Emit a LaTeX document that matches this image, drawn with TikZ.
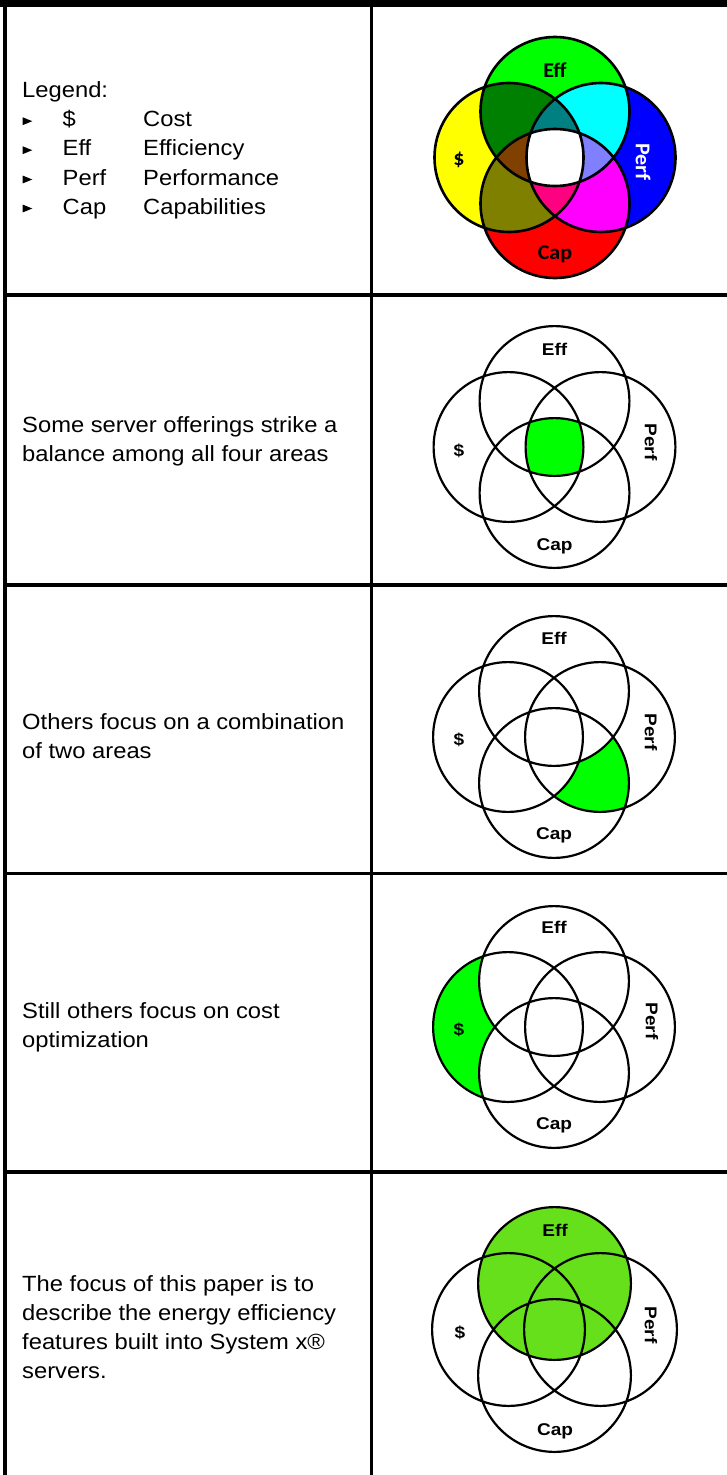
\documentclass[tikz,border=0pt]{standalone}
\usepackage{fontspec}
\setmainfont{Liberation Sans}
\newfontfamily\bodyfont{Liberation Sans}[FakeStretch=1.08]
\newfontfamily\labfont{Liberation Sans}[FakeStretch=1.12]
\newfontfamily\calfont{Carlito}[FakeStretch=1.05]
\definecolor{cS}{RGB}{255,255,0}
\definecolor{cE}{RGB}{0,255,0}
\definecolor{cP}{RGB}{0,0,255}
\definecolor{cC}{RGB}{255,0,0}
\definecolor{cSE}{RGB}{0,128,0}
\definecolor{cEP}{RGB}{0,255,255}
\definecolor{cSC}{RGB}{128,128,0}
\definecolor{cPC}{RGB}{255,0,255}
\definecolor{cSEP}{RGB}{0,128,128}
\definecolor{cSEC}{RGB}{128,64,0}
\definecolor{cEPC}{RGB}{128,128,255}
\definecolor{cSPC}{RGB}{255,0,128}
\definecolor{hl}{RGB}{0,255,0}
\definecolor{hlsoft}{RGB}{102,224,26}
\newcommand\vennpts[3]{%
  \coordinate (#1c) at (#2,#3);
  \coordinate (#1S) at ({#2-46},#3);
  \coordinate (#1P) at ({#2+46},#3);
  \coordinate (#1E) at (#2,{#3-46});
  \coordinate (#1C) at (#2,{#3+46});
}
\newcommand\venndraw[3]{%
  \draw[#3] (#1S) circle[radius=#2] (#1E) circle[radius=#2]
            (#1P) circle[radius=#2] (#1C) circle[radius=#2];
}
\begin{document}
\begin{tikzpicture}[x=1pt,y=-1pt,
  tabline/.style={line width=3.5pt},
  vlineA/.style={line width=2.6pt},
  vlineB/.style={line width=2.2pt},
  body/.style={anchor=base west,inner sep=0pt,font=\bodyfont\fontsize{22}{29}\selectfont},
  toplab/.style={inner sep=0pt,font=\calfont\bfseries\fontsize{21}{21}\selectfont},
  vlab/.style={inner sep=0pt,font=\labfont\bfseries\fontsize{17}{17}\selectfont},
  bullet/.style={fill=black}]
\useasboundingbox (0,0) rectangle (727,1475);
\def\ra{74.5}\def\rb{74.9}\def\rc{76.4}
% ---------- centres ----------
\vennpts{a}{555}{157.5}
\vennpts{b}{554.5}{447}
\vennpts{c}{554}{737}
\vennpts{d}{554}{1027}
\vennpts{e}{554.5}{1329.5}
% ---------- row 1 : coloured ----------
\fill[cS] (aS) circle[radius=\ra];
\fill[cE] (aE) circle[radius=\ra];
\fill[cP] (aP) circle[radius=\ra];
\fill[cC] (aC) circle[radius=\ra];
\begin{scope}
  \clip (aS) circle[radius=\ra];
  \fill[cSE] (aE) circle[radius=\ra];
  \fill[cSC] (aC) circle[radius=\ra];
\end{scope}
\begin{scope}
  \clip (aP) circle[radius=\ra];
  \fill[cEP] (aE) circle[radius=\ra];
  \fill[cPC] (aC) circle[radius=\ra];
\end{scope}
\begin{scope}
  \clip (aS) circle[radius=\ra];
  \clip (aE) circle[radius=\ra];
  \fill[cSEP] (aP) circle[radius=\ra];
  \fill[cSEC] (aC) circle[radius=\ra];
\end{scope}
\begin{scope}
  \clip (aP) circle[radius=\ra];
  \clip (aC) circle[radius=\ra];
  \fill[cEPC] (aE) circle[radius=\ra];
  \fill[cSPC] (aS) circle[radius=\ra];
\end{scope}
\begin{scope}
  \clip (aS) circle[radius=\ra];
  \clip (aE) circle[radius=\ra];
  \clip (aP) circle[radius=\ra];
  \fill[white] (aC) circle[radius=\ra];
\end{scope}
\venndraw{a}{\ra}{vlineA}
\node[toplab] (aeff) at (555,77.3) [anchor=base] {Eff};
\node[toplab] (ausd) at (459,165.5) [anchor=base] {\$};
\node[toplab,text=white,rotate=-90] (aperf) at (643,162) {Perf};
\node[toplab] (acap) at (555,259.3) [anchor=base] {Cap};
% ---------- row 2 : all four ----------
\begin{scope}
  \clip (bS) circle[radius=\rb];
  \clip (bE) circle[radius=\rb];
  \clip (bP) circle[radius=\rb];
  \fill[hl] (bC) circle[radius=\rb];
\end{scope}
\venndraw{b}{\rb}{vlineB}
\node[vlab,anchor=base] (beff) at (554.5,355) {Eff};
\node[vlab,anchor=base] (busd) at (459,456) {\$};
\node[vlab,rotate=-90] (bperf) at (651,442) {Perf};
\node[vlab,anchor=base] (bcap) at (554.5,550) {Cap};
% ---------- row 3 : Perf and Cap ----------
\begin{scope}
  \clip (cP) circle[radius=\rb];
  \clip (cC) circle[radius=\rb];
  \fill[hl] (cP) circle[radius=\rb];
  \fill[white] (cE) circle[radius=\rb];
  \fill[white] (cS) circle[radius=\rb];
\end{scope}
\venndraw{c}{\rb}{vlineB}
\node[vlab,anchor=base] (ceff) at (554,644.3) {Eff};
\node[vlab,anchor=base] (cusd) at (459,745.7) {\$};
\node[vlab,rotate=-90] (cperf) at (651,732) {Perf};
\node[vlab,anchor=base] (ccap) at (554,839.3) {Cap};
% ---------- row 4 : cost only ----------
\begin{scope}
  \clip (dS) circle[radius=\rb];
  \fill[hl] (dS) circle[radius=\rb];
  \fill[white] (dE) circle[radius=\rb];
  \fill[white] (dC) circle[radius=\rb];
\end{scope}
\venndraw{d}{\rb}{vlineB}
\node[vlab,anchor=base] (deff) at (554,933.5) {Eff};
\node[vlab,anchor=base] (dusd) at (459,1035) {\$};
\node[vlab,rotate=-90] (dperf) at (652,1021) {Perf};
\node[vlab,anchor=base] (dcap) at (554,1129.3) {Cap};
% ---------- row 5 : efficiency ----------
\fill[hlsoft] (eE) circle[radius=\rc];
\venndraw{e}{\rc}{vlineB}
\node[vlab,anchor=base] (eeff) at (555,1236) {Eff};
\node[vlab,anchor=base] (eusd) at (460,1338.3) {\$};
\node[vlab,rotate=-90] (eperf) at (651,1325) {Perf};
\node[vlab,anchor=base] (ecap) at (555,1435) {Cap};
% ---------- left column texts ----------
\node[body] (leg) at (22,97.7) {Legend:};
\fill[bullet] (22.7,117.3) -- (22.7,125.1) -- (32.3,121.2) -- cycle;
\fill[bullet] (22.7,146.3) -- (22.7,154.1) -- (32.3,150.2) -- cycle;
\fill[bullet] (22.7,175.6) -- (22.7,183.4) -- (32.3,179.5) -- cycle;
\fill[bullet] (22.7,204.6) -- (22.7,212.4) -- (32.3,208.5) -- cycle;
\node[body] (k1) at (62.5,126.7) {\$};
\node[body] (v1) at (143,126.7) {Cost};
\node[body] (k2) at (62.5,155.7) {Eff};
\node[body] (v2) at (143,155.7) {Efficiency};
\node[body] (k3) at (62.5,185) {Perf};
\node[body] (v3) at (143,185) {Performance};
\node[body] (k4) at (62.5,214) {Cap};
\node[body] (v4) at (143,214) {Capabilities};
\node[body] (t2a) at (22,432.3) {Some server offerings strike a};
\node[body] (t2b) at (22,461.3) {balance among all four areas};
\node[body] (t3a) at (22,729) {Others focus on a combination};
\node[body] (t3b) at (22,758) {of two areas};
\node[body] (t4a) at (22,1018.3) {Still others focus on cost};
\node[body] (t4b) at (22,1047) {optimization};
\node[body] (t5a) at (22,1291) {The focus of this paper is to};
\node[body] (t5b) at (22,1320) {describe the energy efficiency};
\node[body] (t5c) at (22,1349) {features built into System x®};
\node[body] (t5d) at (22,1378) {servers.};
% ---------- table rules ----------
\fill (0,0) rectangle (727,6.5);
\draw[line width=4.5pt] (5,0) -- (5,1475);
\draw[tabline] (371.7,0) -- (371.7,1475);
\draw[tabline] (3,295) -- (727,295);
\draw[tabline] (3,585) -- (727,585);
\draw[tabline] (3,873.5) -- (727,873.5);
\draw[tabline] (3,1172) -- (727,1172);
\end{tikzpicture}
\end{document}
